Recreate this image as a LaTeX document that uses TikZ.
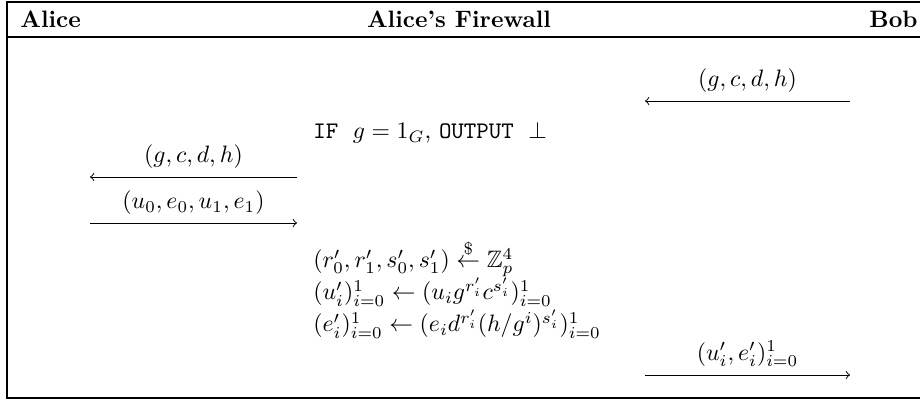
\documentclass[tikz,border=0pt]{standalone}
\usepackage{amsmath,amssymb}
\begin{document}
\begin{tikzpicture}[x=0.0148cm,y=0.0148cm]
\useasboundingbox (0,0) rectangle (920,401);
% frame and header
\draw[thick] (920,399) -- (7,399) -- (7,3) -- (920,3);
\draw[thick] (7,364) -- (920,364);
\node[anchor=base west] (alice) at (12,373) {\textbf{Alice}};
\node[anchor=base] (fw) at (459,373) {\textbf{Alice's Firewall}};
\node[anchor=base east] (bob) at (926,373) {\textbf{Bob}};
% Bob to firewall
\coordinate (bobA) at (850,300);
\coordinate (fwA) at (645,300);
\draw[->] (bobA) -- node[above] (msgA) {$(g,c,d,h)$} (fwA);
\node[anchor=base west] (check) at (305,262) {\texttt{IF} $\;g=1_G$, \texttt{OUTPUT} $\;\bot$};
% firewall to Alice and back
\coordinate (fwB) at (297,224);
\coordinate (aliceB) at (90,224);
\draw[->] (fwB) -- node[above] (msgB) {$(g,c,d,h)$} (aliceB);
\coordinate (aliceC) at (90,178);
\coordinate (fwC) at (297,178);
\draw[->] (aliceC) -- node[above] (msgC) {$(u_0,e_0,u_1,e_1)$} (fwC);
% re-randomisation
\node[anchor=base west] (pick) at (305,133)
  {$(r'_0,r'_1,s'_0,s'_1)\stackrel{\$}{\leftarrow}\mathbb{Z}_p^4$};
\node[anchor=base west] (newu) at (305,101)
  {$(u'_i)_{i=0}^1\leftarrow(u_ig^{r'_i}c^{s'_i})_{i=0}^1$};
\node[anchor=base west] (newe) at (305,69)
  {$(e'_i)_{i=0}^1\leftarrow(e_id^{r'_i}(h/g^i)^{s'_i})_{i=0}^1$};
% firewall to Bob
\coordinate (fwD) at (645,26);
\coordinate (bobD) at (850,26);
\draw[->] (fwD) -- node[above] (msgD) {$(u'_i,e'_i)_{i=0}^1$} (bobD);
\end{tikzpicture}
\end{document}
